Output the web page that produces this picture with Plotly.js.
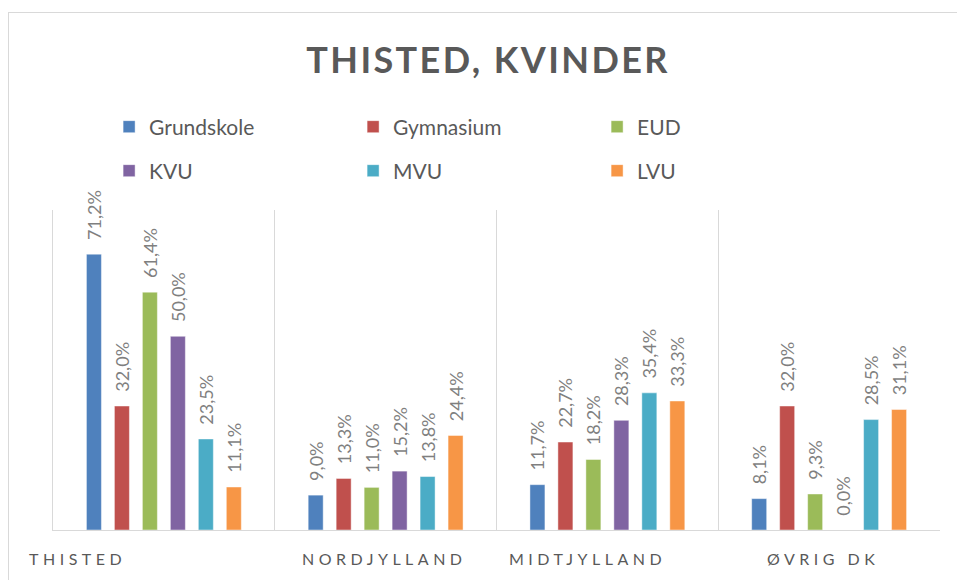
<!DOCTYPE html>
<html>
<head>
<meta charset="utf-8">
<script src="https://cdn.plot.ly/plotly-3.0.1.min.js"></script>
<style>
  html, body { margin: 0; padding: 0; background: #fff; }
  #wrap { position: relative; width: 957px; height: 580px; overflow: hidden; }
  #chart { position: absolute; left: 0; top: 0; width: 957px; height: 580px; }
  #frame { position: absolute; left: 8px; top: 12px; width: 1000px; height: 1000px;
           border-left: 1px solid #d9d9d9; border-top: 1px solid #d9d9d9; pointer-events: none; }
  .gtitle { letter-spacing: 2.4px; }
  .annotation-text { letter-spacing: 4.5px; }
</style>
</head>
<body>
<div id="wrap"><div id="chart"></div><div id="frame"></div></div>
<script>
const categories = ["THISTED", "NORDJYLLAND", "MIDTJYLLAND", "ØVRIG DK"];
const seriesNames = ["Grundskole", "Gymnasium", "EUD", "KVU", "MVU", "LVU"];
const grundskole = [71.2, 9.0, 11.7, 8.1];
const gymnasium  = [32.0, 13.3, 22.7, 32.0];
const eud        = [61.4, 11.0, 18.2, 9.3];
const kvu        = [50.0, 15.2, 28.3, 0.0];
const mvu        = [23.5, 13.8, 35.4, 28.5];
const lvu        = [11.1, 24.4, 33.3, 31.1];
const seriesValues = [grundskole, gymnasium, eud, kvu, mvu, lvu];
const colors = ["#4F81BD", "#C0504D", "#9BBB59", "#8064A2", "#4BACC6", "#F79646"];
const labelShift = [-86, -1, -20, -6];

const fmt = v => "\u2002\u2009" + v.toFixed(1).replace(".", ",") + "%";

const traces = seriesValues.map((vals, i) => ({
  type: "bar",
  name: seriesNames[i],
  x: categories,
  y: vals,
  text: vals.map(fmt),
  textposition: "outside",
  textangle: -90,
  constraintext: "none",
  cliponaxis: false,
  textfont: { family: "Lato, sans-serif", size: 18, color: "#7f7f7f" },
  marker: { color: colors[i], line: { color: "rgba(255,255,255,0.45)", width: 1 } },
  legend: i < 3 ? "legend" : "legend2",
  hoverinfo: "skip"
}));

const legendCommon = {
  orientation: "h",
  xref: "container", yref: "container",
  x: 0.114, xanchor: "left", yanchor: "middle",
  font: { family: "Lato, sans-serif", size: 21, color: "#595959" },
  entrywidth: 199, entrywidthmode: "pixels",
  bgcolor: "rgba(0,0,0,0)", borderwidth: 0
};

const annotations = categories.map((c, i) => ({
  x: c, y: 0, xref: "x", yref: "y",
  yshift: -28, xshift: labelShift[i],
  text: c, showarrow: false,
  font: { family: "Lato, sans-serif", size: 16, color: "#595959" },
  xanchor: "center", yanchor: "middle"
}));

const layout = {
  width: 957, height: 580,
  margin: { l: 53, r: 17, t: 210, b: 50 },
  paper_bgcolor: "#ffffff", plot_bgcolor: "#ffffff",
  title: {
    text: "<b>THISTED, KVINDER</b>",
    x: 0.51, xanchor: "center",
    y: 1 - 60 / 580, yanchor: "middle", yref: "container",
    font: { family: "Lato, sans-serif", size: 36, color: "#595959" }
  },
  barmode: "group",
  bargap: 0.243,
  bargroupgap: 0.464,
  showlegend: true,
  legend: Object.assign({}, legendCommon, { y: 1 - 127 / 580 }),
  legend2: Object.assign({}, legendCommon, { y: 1 - 171 / 580 }),
  xaxis: {
    type: "category",
    range: [-0.5, 3.5], autorange: false,
    tickson: "boundaries",
    showgrid: true, gridcolor: "#d9d9d9", gridwidth: 1,
    showline: true, linecolor: "#d9d9d9", linewidth: 1,
    ticks: "", showticklabels: false,
    fixedrange: true
  },
  yaxis: {
    range: [0, 82.6],
    showgrid: false, zeroline: false,
    showline: true, linecolor: "#d9d9d9",
    showticklabels: false, ticks: "",
    fixedrange: true
  },
  annotations: annotations
};

Plotly.newPlot("chart", traces, layout, { displayModeBar: false, staticPlot: true });
</script>
</body>
</html>
